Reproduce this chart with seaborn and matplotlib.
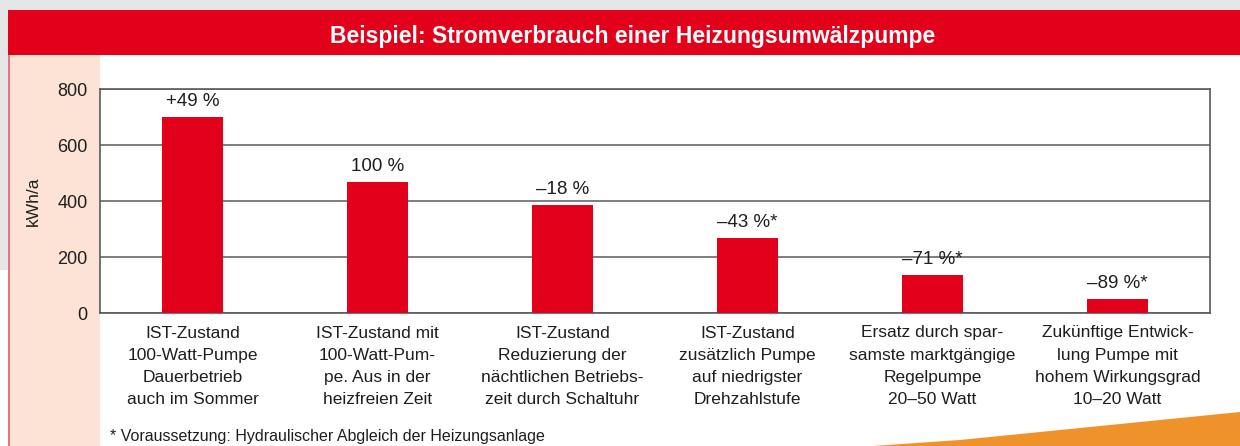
import matplotlib
matplotlib.use("Agg")
import matplotlib.pyplot as plt
import seaborn as sns
import pandas as pd
from matplotlib.patches import Rectangle, Polygon

categories = [
    "IST-Zustand\n100-Watt-Pumpe\nDauerbetrieb\nauch im Sommer",
    "IST-Zustand mit\n100-Watt-Pum-\npe. Aus in der\nheizfreien Zeit",
    "IST-Zustand\nReduzierung der\nnächtlichen Betriebs-\nzeit durch Schaltuhr",
    "IST-Zustand\nzusätzlich Pumpe\nauf niedrigster\nDrehzahlstufe",
    "Ersatz durch spar-\nsamste marktgängige\nRegelpumpe\n20–50 Watt",
    "Zukünftige Entwick-\nlung Pumpe mit\nhohem Wirkungsgrad\n10–20 Watt",
]
values = [700, 468, 385, 268, 137, 51]
pct_labels = ["+49 %", "100 %", "–18 %", "–43 %*", "–71 %*", "–89 %*"]
yticks = [0, 200, 400, 600, 800]
title = "Beispiel: Stromverbrauch einer Heizungsumwälzpumpe"
ylabel = "kWh/a"
footnote = "* Voraussetzung: Hydraulischer Abgleich der Heizungsanlage"

RED = "#e2001a"
TXT = "#1e1e1e"
GRID = "#5a5a5a"

sns.set_theme(style="white")
plt.rcParams["font.family"] = ["Liberation Sans", "DejaVu Sans"]

W, H = 1240, 446
fig = plt.figure(figsize=(W / 100, H / 100), dpi=100)
fig.patch.set_facecolor("white")

def frect(x0, y0, x1, y1, color, z=-5):
    fig.patches.append(Rectangle((x0 / W, 1 - y1 / H), (x1 - x0) / W, (y1 - y0) / H,
                                 transform=fig.transFigure, facecolor=color,
                                 edgecolor="none", zorder=z))

frect(0, 0, W, 10, "#e5e6e8")
frect(0, 0, 8, 270, "#e5e6e8")
frect(8, 10, W, 55, RED)
frect(8, 55, 100, H, "#fce3d6")
frect(8, 55, 9.5, H, "#e8737e")

pts = [(873, 446), (960, 440), (1060, 430), (1160, 420), (1240, 412), (1240, 446)]
fig.patches.append(Polygon([(x / W, 1 - y / H) for x, y in pts], closed=True,
                           transform=fig.transFigure, facecolor="#f0922a",
                           edgecolor="none", zorder=-5))

fig.text(633 / W, 1 - 36 / H, title, color="white", fontsize=16.5, fontweight="bold",
         ha="center", va="center", zorder=5)

ax = fig.add_axes([100 / W, 1 - 313 / H, 1110 / W, 224 / H])
ax.set_zorder(2)
df = pd.DataFrame({"cat": categories, "val": values})
sns.barplot(data=df, x="cat", y="val", color=RED, saturation=1, width=0.335, ax=ax,
            linewidth=0, zorder=3)

ax.set_xlim(-0.5, 5.5)
ax.set_ylim(0, 800)
ax.set_yticks(yticks)
ax.set_yticklabels([str(t) for t in yticks], fontsize=13, color=TXT)
ax.set_xticks(range(len(categories)))
ax.set_xticklabels(categories, fontsize=12.5, color=TXT, linespacing=1.6)
ax.tick_params(axis="both", length=0)
ax.tick_params(axis="x", pad=9)
ax.tick_params(axis="y", pad=9)
ax.set_xlabel("")
ax.set_ylabel(ylabel, fontsize=12.5, color=TXT, labelpad=12)
ax.yaxis.grid(True, color=GRID, linewidth=1.1, zorder=0)
ax.set_axisbelow(True)
for s in ax.spines.values():
    s.set_visible(True)
    s.set_color(GRID)
    s.set_linewidth(1.2)

for i, (v, lab) in enumerate(zip(values, pct_labels)):
    ax.annotate(lab, (i, v), xytext=(0, 5), textcoords="offset points",
                ha="center", va="bottom", fontsize=13.5, color=TXT)

fig.text(110 / W, 1 - 437 / H, footnote, fontsize=11.5, color=TXT, ha="left", va="center")

fig.savefig("out.png", dpi=100)
